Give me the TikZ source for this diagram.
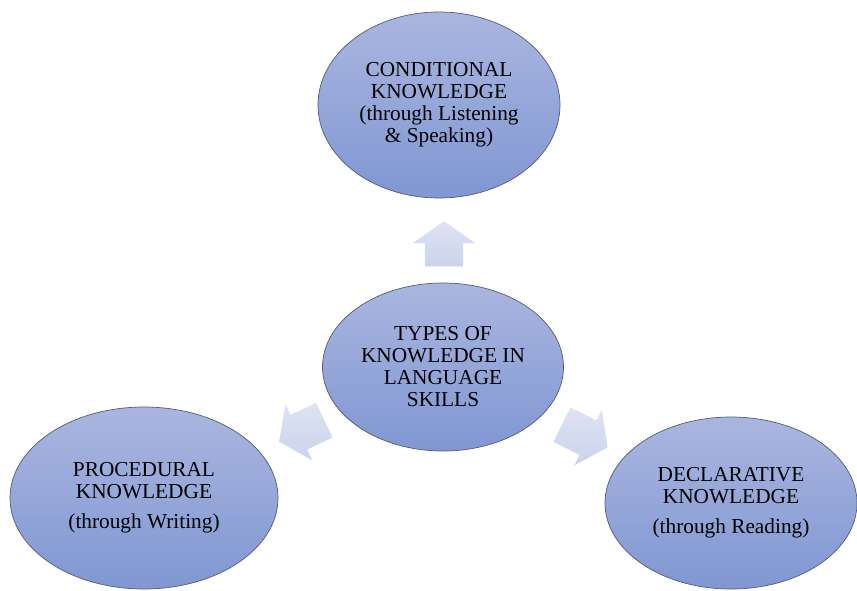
\documentclass[tikz,border=0pt]{standalone}
\usepackage{fontspec}
\setmainfont{Liberation Serif}
\usepackage{tikz}
\usetikzlibrary{shapes.geometric,shapes.arrows}

\definecolor{ovaltop}{RGB}{170,182,223}
\definecolor{ovalbot}{RGB}{128,151,211}
\definecolor{ovalline}{RGB}{80,92,120}
\definecolor{arrtop}{RGB}{222,227,243}
\definecolor{arrbot}{RGB}{203,211,236}

\begin{document}
\begin{tikzpicture}[x=1pt,y=-1pt,
    oval/.style={ellipse,draw=ovalline,line width=0.7pt,top color=ovaltop,bottom color=ovalbot,
        align=center,inner sep=0pt,font=\fontsize{21.3}{22}\selectfont},
    blockarr/.style={single arrow,draw=none,top color=arrtop,bottom color=arrbot,
        inner xsep=0pt,inner ysep=19pt,single arrow head extend=12pt,single arrow tip angle=110}]
\useasboundingbox (0,0) rectangle (857,590);

% the four ovals
\node[oval,minimum width=242pt,minimum height=186pt] (cond) at (439,105)
    {CONDITIONAL\\KNOWLEDGE\\(through Listening\\\& Speaking)};
\node[oval,minimum width=241pt,minimum height=168pt] (types) at (443,367)
    {TYPES OF\\KNOWLEDGE IN\\LANGUAGE\\SKILLS};
\node[oval,minimum width=268pt,minimum height=182pt] (proc) at (144,498)
    {PROCEDURAL\\KNOWLEDGE\\[8pt](through Writing)};
\node[oval,minimum width=252pt,minimum height=172pt] (decl) at (731,503)
    {DECLARATIVE\\KNOWLEDGE\\[8pt](through Reading)};

% block arrows
\node[blockarr,minimum height=45pt,rotate=90] (upArr) at (444,250.5) {};
\node[blockarr,minimum height=50pt,rotate=205.5] (leftArr) at (307.8,428) {};
\node[blockarr,minimum height=51pt,rotate=-26.3] (rightArr) at (578.7,433) {};
\end{tikzpicture}
\end{document}
